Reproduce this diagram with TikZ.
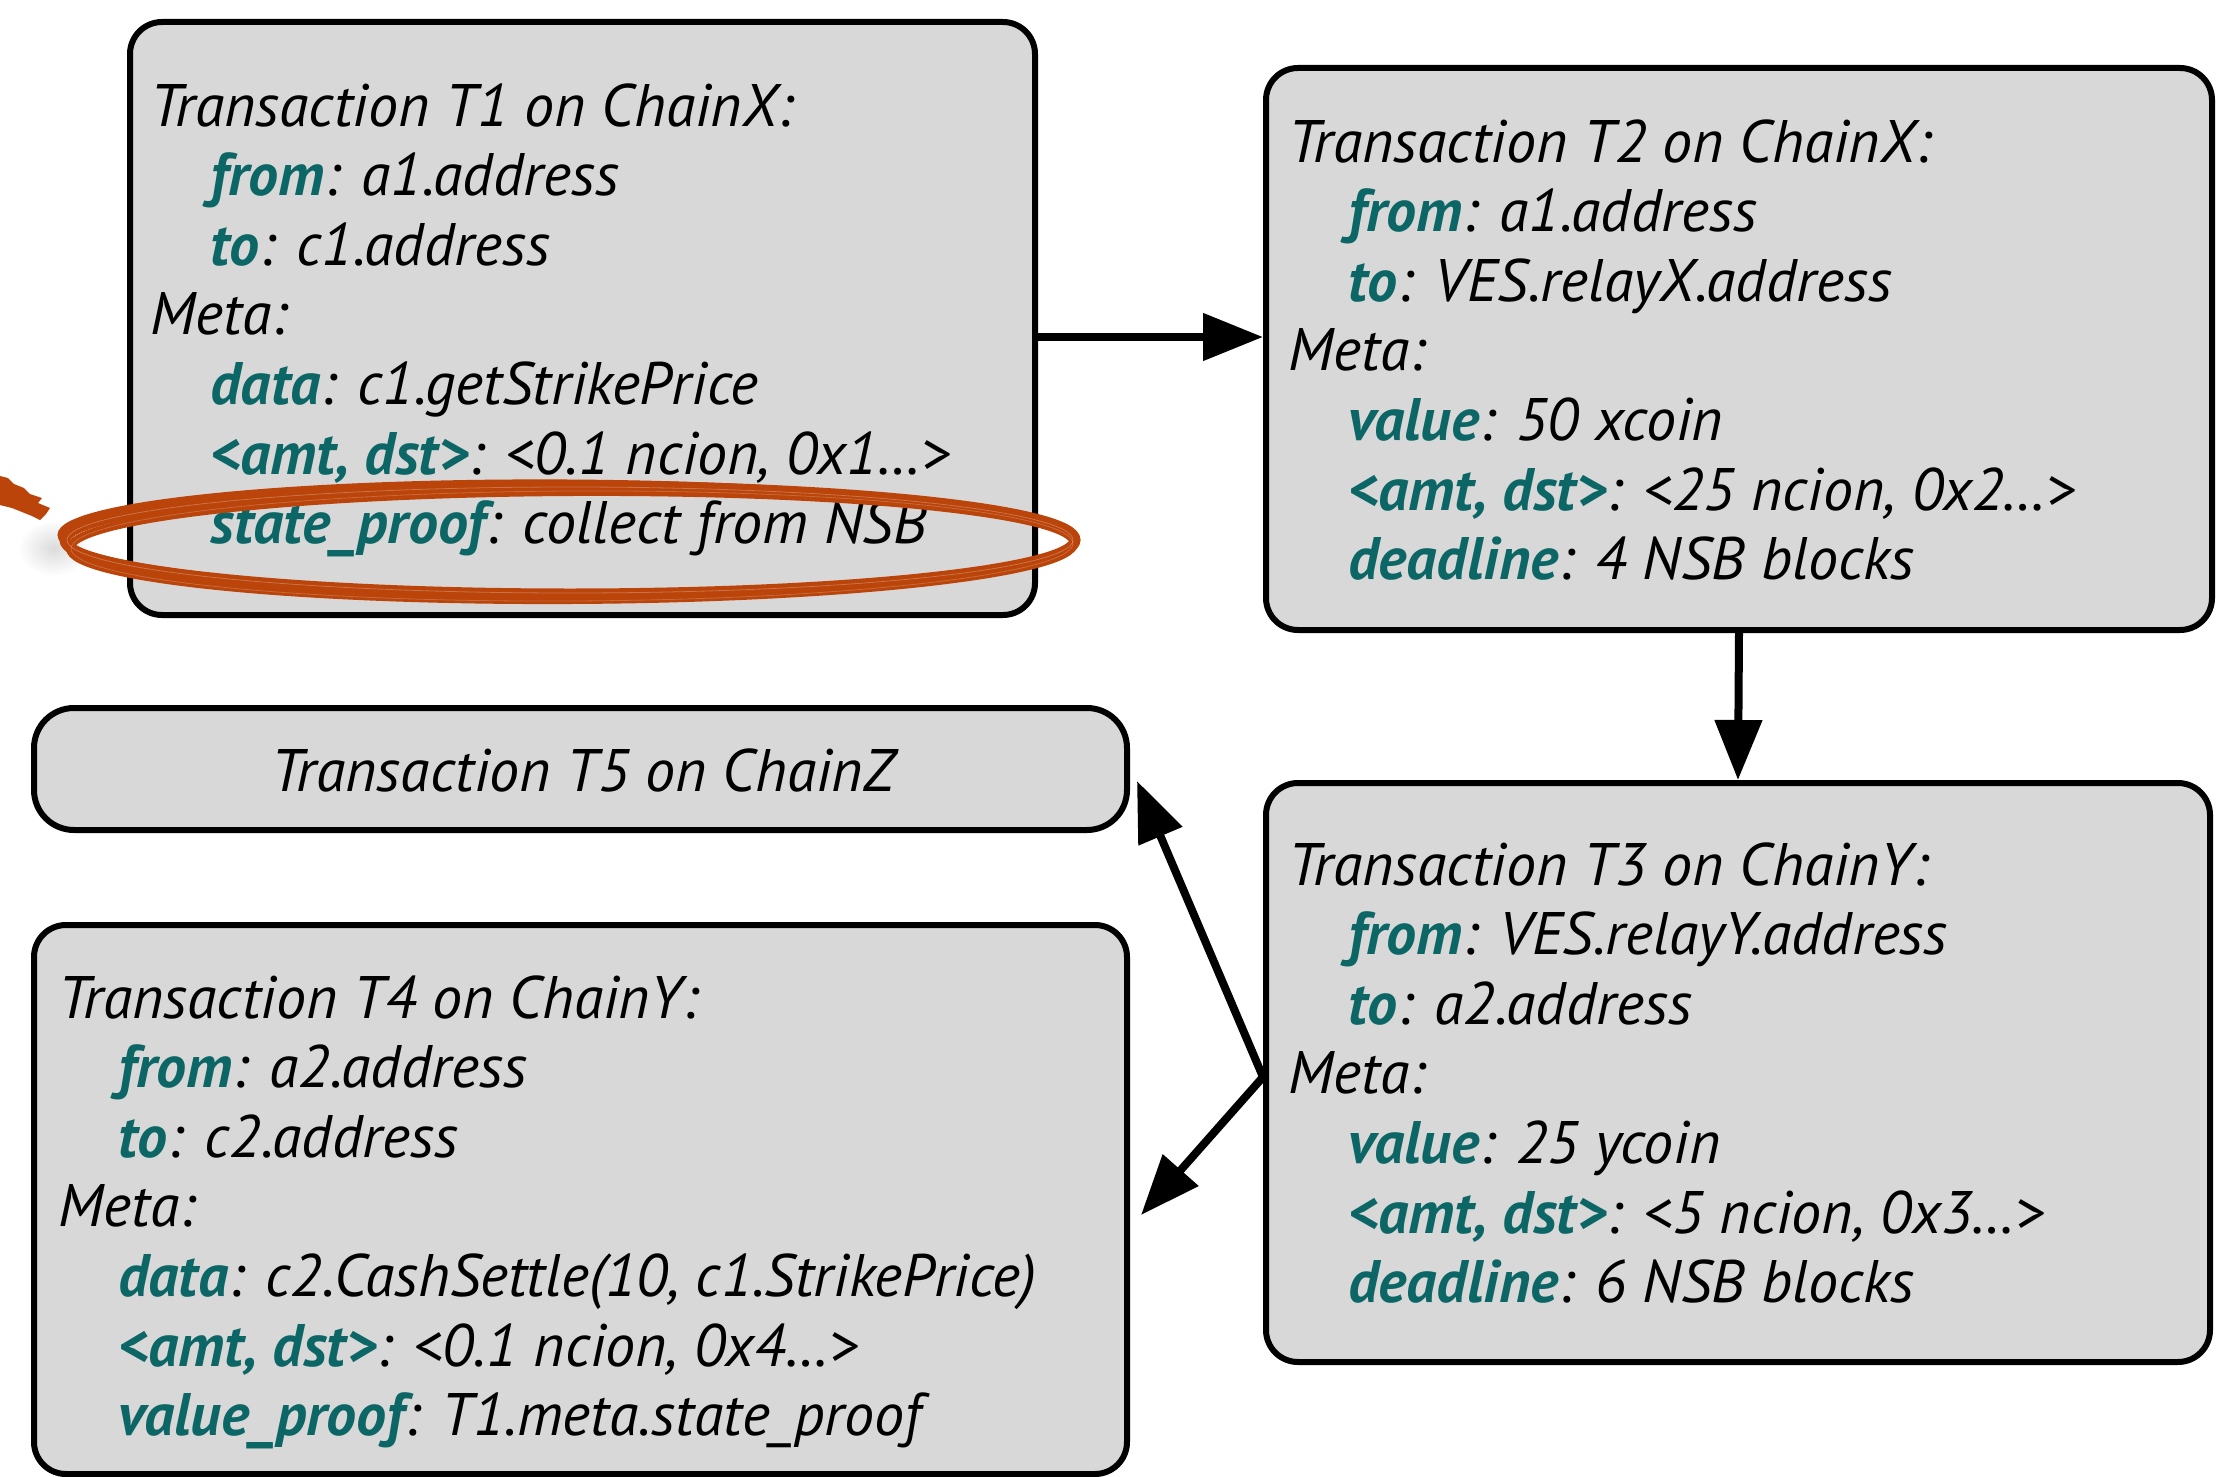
\documentclass[tikz,border=0pt]{standalone}
\usepackage{fontspec}
\setmainfont{PT Sans}
\usetikzlibrary{arrows.meta}

\definecolor{keyteal}{RGB}{12,102,102}
\definecolor{boxgray}{RGB}{216,216,216}
\definecolor{brush}{RGB}{186,68,10}
\newcommand{\kw}[1]{\textcolor{keyteal}{\bfseries #1}}
\newcommand{\ind}{\hspace*{30pt}}

\begin{document}
\begin{tikzpicture}[x=0.5pt,y=-0.5pt,
  txbox/.style={draw=black, line width=3pt, fill=boxgray, rounded corners=16pt, inner sep=0pt},
  txtext/.style={anchor=north west, inner sep=0pt, align=left,
                 font=\fontsize{30}{34.8}\selectfont\itshape},
  flow/.style={line width=4pt, -{Triangle[length=30pt,width=23pt]}}]

\useasboundingbox (0,0) rectangle (2223,1477);

% transaction boxes
\node[txbox, minimum width=452.5pt, minimum height=296.5pt] (t1) at (582.5,318.5) {};
\node[txbox, minimum width=473pt, minimum height=281pt] (t2) at (1739,349) {};
\node[txbox, minimum width=472pt, minimum height=289.5pt] (t3) at (1738,1072.5) {};
\node[txbox, rounded corners=20pt, minimum width=546.5pt, minimum height=61pt] (t5) at (580.5,769) {};
\node[txbox, minimum width=546.5pt, minimum height=274.5pt] (t4) at (580.5,1199.5) {};

% box contents
\node[txtext] (t1txt) at (150,83) {Transaction T1 on ChainX:\\
  \ind\kw{from}: a1.address\\
  \ind\kw{to}: c1.address\\
  Meta:\\
  \ind\kw{data}: c1.getStrikePrice\\
  \ind\kw{<amt, dst>}: <0.1 ncion, 0x1…>\\
  \ind\kw{state\_proof}: collect from NSB};

\node[txtext] (t2txt) at (1288,119) {Transaction T2 on ChainX:\\
  \ind\kw{from}: a1.address\\
  \ind\kw{to}: VES.relayX.address\\
  Meta:\\
  \ind\kw{value}: 50 xcoin\\
  \ind\kw{<amt, dst>}: <25 ncion, 0x2…>\\
  \ind\kw{deadline}: 4 NSB blocks};

\node[txtext] (t3txt) at (1288,842) {Transaction T3 on ChainY:\\
  \ind\kw{from}: VES.relayY.address\\
  \ind\kw{to}: a2.address\\
  Meta:\\
  \ind\kw{value}: 25 ycoin\\
  \ind\kw{<amt, dst>}: <5 ncion, 0x3…>\\
  \ind\kw{deadline}: 6 NSB blocks};

\node[txtext] (t4txt) at (58,975) {Transaction T4 on ChainY:\\
  \ind\kw{from}: a2.address\\
  \ind\kw{to}: c2.address\\
  Meta:\\
  \ind\kw{data}: c2.CashSettle(10, c1.StrikePrice)\\
  \ind\kw{<amt, dst>}: <0.1 ncion, 0x4…>\\
  \ind\kw{value\_proof}: T1.meta.state\_proof};

\node[inner sep=0pt, font=\fontsize{30}{34.8}\selectfont\itshape] (t5txt) at (583,770) {Transaction T5 on ChainZ};

% connectors
\coordinate (row12) at (0,337);
\coordinate (fork) at (0,1077);
\coordinate (hit5) at (0,781);
\coordinate (hit4) at (0,1215);
\draw[flow] (t1.east |- row12) -- (t2.west |- row12);
\draw[flow] (t2.south) -- (t3.north);
\draw[flow] (t3.west |- fork) -- ([xshift=3.5pt]t5.east |- hit5);
\draw[flow] (t3.west |- fork) -- ([xshift=5.5pt]t4.east |- hit4);

% hand-drawn highlight round the state proof
\shade[inner color=black!14, outer color=white] (54,548) ellipse [x radius=36, y radius=28];
\fill[brush] (0,476) -- (8,478) -- (14,484) -- (24,488) -- (30,494) -- (42,498) -- (38,503)
  -- (50,508) -- (46,514) -- (40,520) -- (32,516) -- (22,512) -- (12,508) -- (0,505) -- cycle;
\begin{scope}[brush, line cap=round]
  \draw[line width=5.5pt] (570,540) ellipse [x radius=505, y radius=54];
  \draw[line width=4pt, rotate around={0.3:(572,546)}] (572,546) ellipse [x radius=502, y radius=54];
  \draw[line width=2.5pt, rotate around={-0.35:(568,538)}] (568,538) ellipse [x radius=508, y radius=56];
\end{scope}
\draw[white, opacity=0.25, line width=0.4pt] (570,540) ellipse [x radius=503, y radius=53];
\draw[white, opacity=0.2, line width=0.4pt, rotate around={0.3:(572,546)}] (572,546) ellipse [x radius=501, y radius=55];

\end{tikzpicture}
\end{document}
